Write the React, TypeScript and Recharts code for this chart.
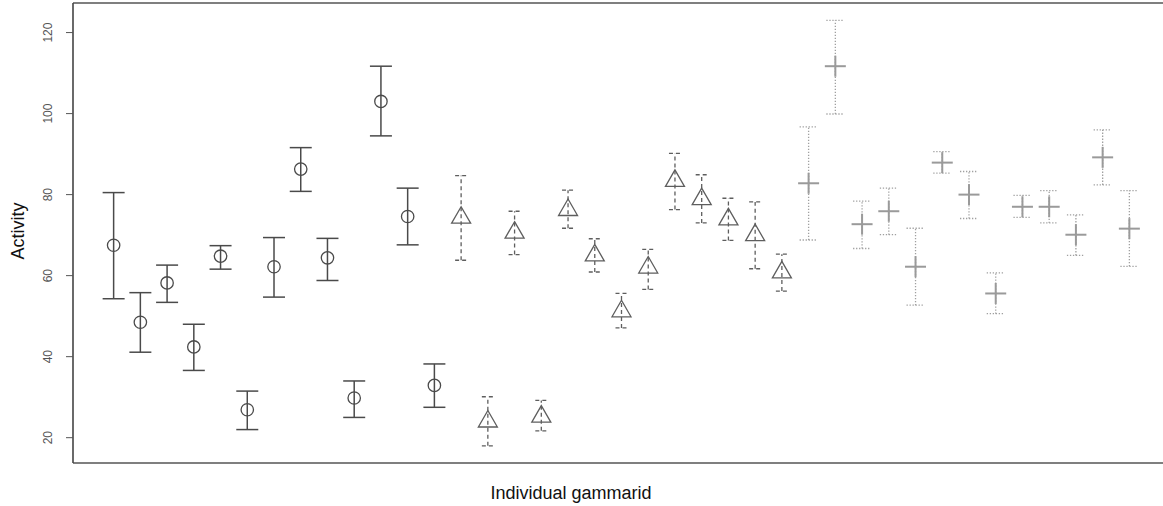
import * as React from "react"
import { ScatterChart, Scatter, XAxis, YAxis, ErrorBar, ReferenceLine } from "recharts"

// three treatment groups, 13 gammarids each, mean activity with lower / upper bounds
const circleMean = [67.5, 48.5, 58.2, 42.4, 64.8, 26.9, 62.2, 86.3, 64.4, 29.8, 103, 74.6, 32.9]
const circleLow = [54.3, 41.1, 53.4, 36.6, 61.6, 22, 54.7, 80.8, 58.8, 25, 94.5, 67.6, 27.5]
const circleHigh = [80.5, 55.8, 62.6, 48, 67.4, 31.5, 69.4, 91.6, 69.2, 34, 111.7, 81.6, 38.2]

const triMean = [74.3, 24, 70.6, 25.2, 76.2, 65, 51.2, 62, 83.4, 78.9, 73.9, 70, 60.8]
const triLow = [63.8, 18, 65.2, 21.7, 71.7, 60.9, 47.1, 56.6, 76.3, 73, 68.7, 61.7, 56.2]
const triHigh = [84.7, 30.1, 75.9, 29.2, 81.1, 69.1, 55.6, 66.5, 90.2, 84.9, 79.1, 78.2, 65.3]

const crossMean = [82.8, 111.7, 72.7, 75.9, 62.2, 87.9, 80, 55.6, 77, 77, 70.1, 89.2, 71.6]
const crossLow = [68.8, 99.9, 66.7, 70.1, 52.7, 85.3, 74.1, 50.6, 74.4, 73, 65, 82.4, 62.3]
const crossHigh = [96.7, 123, 78.4, 81.6, 71.7, 90.6, 85.7, 60.7, 79.8, 81, 75, 96, 81]

const yTicks = [20, 40, 60, 80, 100, 120]
const yDomain = [13.75, 127.3]

function rows(offset: number, mean: number[], low: number[], high: number[]) {
  return mean.map((v, i) => ({ x: offset + i + 1, y: v, err: [v - low[i], high[i] - v] }))
}

const circleData = rows(0, circleMean, circleLow, circleHigh)
const triData = rows(13, triMean, triLow, triHigh)
const crossData = rows(26, crossMean, crossLow, crossHigh)

const CircleShape = (p: any) => (
  <circle cx={p.cx} cy={p.cy} r={6.2} fill="none" stroke="#4a4a4a" strokeWidth={1.3} />
)

const TriShape = (p: any) => {
  const { cx, cy } = p
  return (
    <polygon
      points={`${cx},${cy - 11} ${cx + 9.5},${cy + 5.5} ${cx - 9.5},${cy + 5.5}`}
      fill="none"
      stroke="#5e5e5e"
      strokeWidth={1.3}
    />
  )
}

const CrossShape = (p: any) => {
  const { cx, cy } = p
  return (
    <g stroke="#9a9a9a" strokeWidth={2}>
      <line x1={cx - 10.5} y1={cy} x2={cx + 10.5} y2={cy} />
      <line x1={cx} y1={cy - 10.5} x2={cx} y2={cy + 10.5} />
    </g>
  )
}

const YTick = (p: any) => (
  <text
    x={p.x - 12}
    y={p.y}
    transform={`rotate(-90 ${p.x - 12} ${p.y})`}
    textAnchor="middle"
    fontSize={12}
    fill="#555"
    fontFamily="Liberation Sans, Arial, sans-serif"
  >
    {p.payload.value}
  </text>
)

const labelFont = {
  position: "absolute" as const,
  fontFamily: "Liberation Sans, Arial, sans-serif",
  fontSize: 18,
  color: "#111",
  whiteSpace: "nowrap" as const,
}

export default function App() {
  return (
    <div style={{ position: "absolute", left: 0, top: 0, width: 1163, height: 506, overflow: "hidden", background: "#fff" }}>
      <ScatterChart width={1176} height={506} margin={{ top: 3, right: 6, bottom: 0, left: 0 }}>
        <XAxis
          type="number"
          dataKey="x"
          domain={[-0.52, 40.52]}
          allowDataOverflow
          tick={false}
          tickLine={false}
          height={43}
          axisLine={{ stroke: "#555", strokeWidth: 1.3 }}
        />
        <YAxis
          type="number"
          dataKey="y"
          domain={yDomain}
          allowDataOverflow
          ticks={yTicks}
          width={73}
          tick={<YTick />}
          tickLine={{ stroke: "#555" }}
          tickSize={7}
          axisLine={{ stroke: "#444", strokeWidth: 1.6 }}
        />
        <ReferenceLine y={yDomain[1]} stroke="#555" strokeWidth={1.3} />
        <Scatter data={circleData} shape={<CircleShape />} isAnimationActive={false}>
          <ErrorBar dataKey="err" direction="y" width={11} stroke="#4a4a4a" strokeWidth={1.5} />
        </Scatter>
        <Scatter data={triData} shape={<TriShape />} isAnimationActive={false}>
          <ErrorBar dataKey="err" direction="y" width={6} stroke="#5e5e5e" strokeWidth={1.3} strokeDasharray="4 3" />
        </Scatter>
        <Scatter data={crossData} shape={<CrossShape />} isAnimationActive={false}>
          <ErrorBar dataKey="err" direction="y" width={9} stroke="#a0a0a0" strokeWidth={1.3} strokeDasharray="1.3 1.7" />
        </Scatter>
      </ScatterChart>
      <div style={{ ...labelFont, left: 18, top: 231, transform: "translate(-50%, -50%) rotate(-90deg)" }}>Activity</div>
      <div style={{ ...labelFont, left: 571, top: 493, transform: "translate(-50%, -50%)" }}>Individual gammarid</div>
    </div>
  )
}
